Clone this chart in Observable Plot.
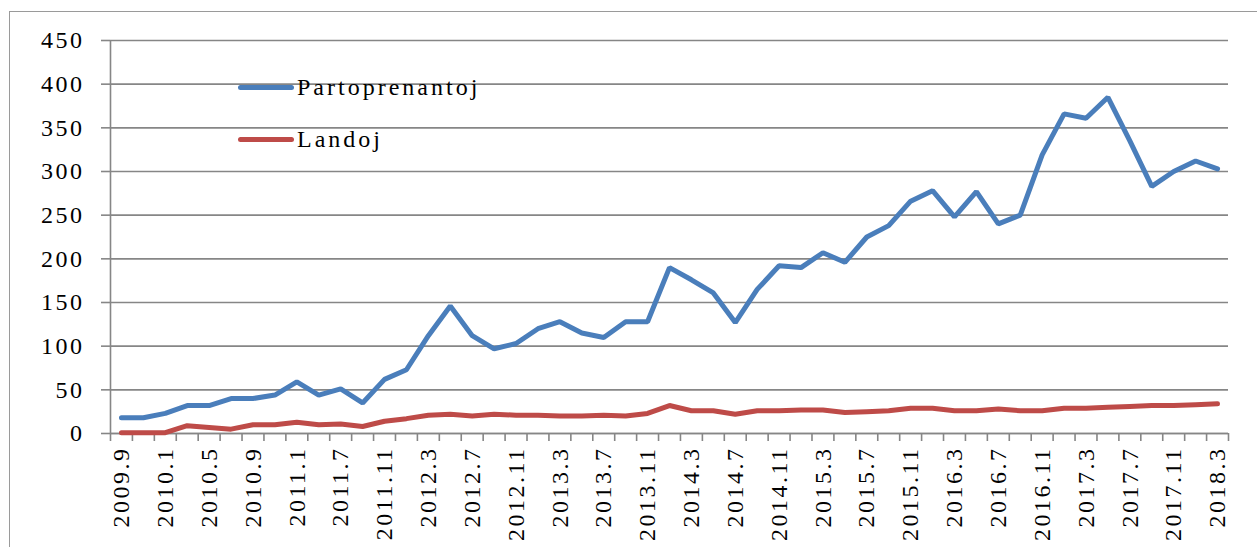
<!DOCTYPE html>
<html>
<head>
<meta charset="utf-8">
<script src="https://cdn.jsdelivr.net/npm/d3@7"></script>
<script src="https://cdn.jsdelivr.net/npm/@observablehq/plot@0.6"></script>
<style>
  html, body { margin: 0; padding: 0; background: #fff; }
  #wrap { position: relative; width: 1257px; height: 547px; overflow: hidden; }
  #frame { position: absolute; left: 9px; top: 11px; width: 1300px; height: 600px; border: 1.5px solid #9a9a9a; box-sizing: border-box; pointer-events: none; }
  #chart svg text { font-family: "Liberation Serif", serif; font-size: 24px; letter-spacing: 2.5px; fill: #000; }
  #legend { position: absolute; left: 238px; top: 70px; font-family: "Liberation Serif", serif; font-size: 24px; letter-spacing: 3px; color: #000; }
  .row { display: flex; align-items: center; height: 34px; margin-bottom: 18px; }
  .swatch { width: 56px; height: 5px; border-radius: 3px; margin-right: 3px; }
</style>
</head>
<body>
<div id="wrap">
  <div id="chart"></div>
  <div id="frame"></div>
  <div id="legend"></div>
</div>
<script>
const categories = ["2009.9","2009.11","2010.1","2010.3","2010.5","2010.7","2010.9","2010.11","2011.1","2011.4","2011.7","2011.9","2011.11","2012.1","2012.3","2012.5","2012.7","2012.9","2012.11","2013.1","2013.3","2013.5","2013.7","2013.9","2013.11","2014.1","2014.3","2014.5","2014.7","2014.9","2014.11","2015.1","2015.3","2015.5","2015.7","2015.9","2015.11","2016.1","2016.3","2016.5","2016.7","2016.9","2016.11","2017.1","2017.3","2017.5","2017.7","2017.9","2017.11","2018.1","2018.3"];
const partoprenantoj = [18,18,23,32,32,40,40,44,59,44,51,35,62,73,112,146,112,97,103,120,128,115,110,128,128,190,176,161,127,165,192,190,207,196,225,238,266,278,248,277,240,250,319,366,361,385,335,283,300,312,303];
const landoj = [1,1,1,9,7,5,10,10,13,10,11,8,14,17,21,22,20,22,21,21,20,20,21,20,23,32,26,26,22,26,26,27,27,24,25,26,29,29,26,26,28,26,26,29,29,30,31,32,32,33,34];
const seriesNames = ["Partoprenantoj", "Landoj"];
const seriesColors = ["#4A7EBB", "#BE4B48"];
const yTicks = [0,50,100,150,200,250,300,350,400,450];

const rows = [];
categories.forEach((c, i) => {
  rows.push({i, cat: c, series: seriesNames[0], value: partoprenantoj[i]});
  rows.push({i, cat: c, series: seriesNames[1], value: landoj[i]});
});

const xDomain = [-0.5, categories.length - 0.5];
const boundaries = d3.range(-0.5, categories.length, 1);
const labelTicks = d3.range(0, categories.length, 2);
const grid = "#868686";

const chart = Plot.plot({
  width: 1257,
  height: 547,
  marginLeft: 110,
  marginRight: 29,
  marginTop: 40,
  marginBottom: 114,
  x: {type: "linear", domain: xDomain},
  y: {domain: [0, 450]},
  color: {domain: seriesNames, range: seriesColors},
  marks: [
    Plot.gridY(yTicks, {stroke: grid, strokeOpacity: 1, strokeWidth: 1.6}),
    Plot.ruleX([xDomain[0]], {stroke: grid, strokeWidth: 1.6}),
    Plot.ruleY([0], {stroke: grid, strokeWidth: 1.6}),
    Plot.axisY({ticks: yTicks, tickSize: 9, tickPadding: 17, stroke: grid, strokeWidth: 1.6, label: null}),
    Plot.axisX({ticks: boundaries, tickSize: 8, tickFormat: () => "", stroke: grid, strokeWidth: 1.6, label: null}),
    Plot.axisX({ticks: labelTicks, tickSize: 0, tickPadding: 13, tickRotate: -90, tickFormat: i => categories[i], label: null}),
    Plot.line(rows, {x: "i", y: "value", z: "series", stroke: "series", strokeWidth: 5, strokeLinejoin: "miter", strokeLinecap: "round"})
  ]
});
document.getElementById("chart").appendChild(chart);

const legend = document.getElementById("legend");
seriesNames.forEach((name, k) => {
  const row = document.createElement("div");
  row.className = "row";
  const sw = document.createElement("div");
  sw.className = "swatch";
  sw.style.background = seriesColors[k];
  const label = document.createElement("span");
  label.textContent = name;
  row.appendChild(sw);
  row.appendChild(label);
  legend.appendChild(row);
});
</script>
</body>
</html>
